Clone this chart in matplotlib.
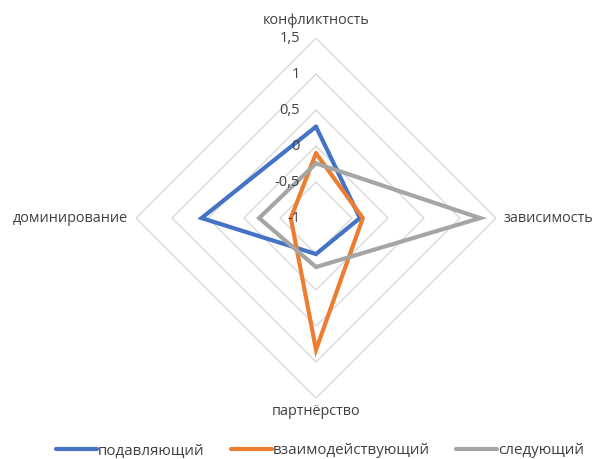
import numpy as np
import matplotlib.pyplot as plt

# axes of the radar, clockwise from the top
categories = ['конфликтность', 'зависимость', 'партнёрство', 'доминирование']
series_names = ['подавляющий', 'взаимодействующий', 'следующий']
podavl = [0.27, -0.39, -0.5, 0.59]
vzaim = [-0.10, -0.35, 0.83, -0.65]
sled = [-0.24, 1.28, -0.32, -0.21]
ticks = [-1, -0.5, 0, 0.5, 1, 1.5]
tick_labels = ['-1', '-0,5', '0', '0,5', '1', '1,5']

colors = ['#4472C4', '#ED7D31', '#A5A5A5']
plt.rcParams['font.family'] = ['Open Sans', 'DejaVu Sans']

fig = plt.figure(figsize=(5.95, 4.59), dpi=100)
ax = fig.add_axes([0.2286, 0.1329, 0.605, 0.784], projection='polar')
ax.set_theta_zero_location('N')
ax.set_theta_direction(-1)
ax.set_ylim(-1, 1.5)

angles = np.arange(len(categories)) * 2 * np.pi / len(categories)
closed = np.append(angles, angles[0])

# diamond grid rings
for t in ticks[1:]:
    ax.plot(closed, [t] * len(closed), color='#D9D9D9', lw=1, zorder=1)

for vals, name, c in zip([podavl, vzaim, sled], series_names, colors):
    ax.plot(closed, vals + vals[:1], color=c, lw=3, label=name, zorder=3,
            solid_joinstyle='miter', solid_capstyle='round')

ax.grid(False)
ax.spines['polar'].set_visible(False)
ax.set_xticks([])
ax.set_yticks([])

# value labels along the top axis
for t, lab in zip(ticks, tick_labels):
    ax.annotate(lab, xy=(0, t), xytext=(-11.5, 0), textcoords='offset points',
                ha='right', va='center', fontsize=10.5, color='#404040', zorder=4)

# category labels
ax.text(0, 1.75, categories[0], ha='center', va='center', fontsize=10.4, color='#404040')
ax.text(angles[1], 1.6, categories[1], ha='left', va='center', fontsize=10.4, color='#404040')
ax.text(angles[2], 1.69, categories[2], ha='center', va='center', fontsize=10.4, color='#404040')
ax.text(angles[3], 1.61, categories[3], ha='right', va='center', fontsize=10.4, color='#404040')

fig.legend(loc='center', ncol=3, frameon=False, fontsize=10.9, handlelength=2.7,
           handletextpad=0.05, columnspacing=1.75, bbox_to_anchor=(0.538, 8 / 459),
           labelcolor='#404040')

fig.savefig('out.png', dpi=100)
